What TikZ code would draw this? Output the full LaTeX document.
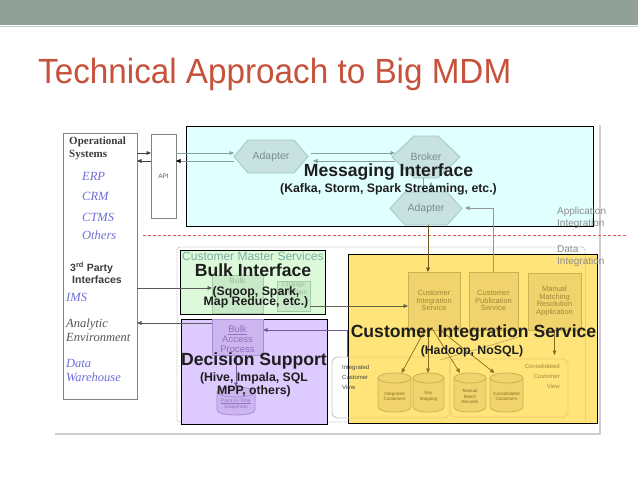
\documentclass[tikz,border=0pt]{standalone}
\usepackage{fontspec}
\setmainfont{Liberation Sans}
\newfontfamily\serfont{Liberation Serif}
\usetikzlibrary{arrows.meta}
\newcommand\myfs[2]{\fontsize{#1}{#2}\selectfont}
\definecolor{bandC}{RGB}{146,161,152}
\definecolor{bandL}{RGB}{195,204,199}
\definecolor{titleC}{RGB}{199,82,60}
\definecolor{frameC}{RGB}{205,205,205}
\definecolor{redC}{RGB}{228,90,90}
\definecolor{cmsB}{RGB}{200,200,200}
\definecolor{opsB}{RGB}{130,130,130}
\definecolor{opsT}{RGB}{60,60,60}
\definecolor{opsBlue}{RGB}{110,110,215}
\definecolor{opsGrey}{RGB}{85,85,85}
\definecolor{apiT}{RGB}{90,90,90}
\definecolor{blueF}{RGB}{224,255,255}
\definecolor{adF}{RGB}{200,226,226}
\definecolor{adB}{RGB}{165,200,200}
\definecolor{adT}{RGB}{120,142,142}
\definecolor{tealArr}{RGB}{135,160,160}
\definecolor{greenF}{RGB}{220,250,217}
\definecolor{gBox}{RGB}{200,234,200}
\definecolor{gB}{RGB}{165,205,165}
\definecolor{gT}{RGB}{150,185,150}
\definecolor{cmsT}{RGB}{125,172,162}
\definecolor{purpF}{RGB}{221,202,255}
\definecolor{pBox}{RGB}{205,182,240}
\definecolor{pB}{RGB}{170,140,215}
\definecolor{pT}{RGB}{145,112,190}
\definecolor{pArr}{RGB}{115,90,150}
\definecolor{yelF}{RGB}{255,228,122}
\definecolor{yBox}{RGB}{240,211,108}
\definecolor{yB}{RGB}{206,176,84}
\definecolor{yT}{RGB}{165,135,55}
\definecolor{yArr}{RGB}{135,110,30}
\definecolor{yLine}{RGB}{238,208,110}
\definecolor{bigC}{RGB}{30,30,30}
\definecolor{darkArr}{RGB}{90,90,90}
\definecolor{grayArr}{RGB}{150,150,150}
\definecolor{appT}{RGB}{140,140,140}
\definecolor{icvT}{RGB}{70,70,70}
\tikzset{
  bx/.style={inner sep=0pt,outer sep=0pt,anchor=north west},
  lbl/.style={inner sep=0pt,outer sep=0pt,align=center},
  bigt/.style={lbl,anchor=base,font={\bfseries\myfs{17.6}{20}},text=bigC},
  subt/.style={lbl,anchor=base,font={\bfseries\myfs{12.3}{14}},text=bigC},
  con/.style={draw=#1,line width=0.7pt,-{Triangle[length=4.5pt,width=3.8pt]}},
  hexa/.style={fill=adF,draw=adB,line width=0.9pt},
  opsbold/.style={anchor=base west,inner sep=0pt,font={\serfont\bfseries\myfs{11}{12}},text=opsT},
  opsit/.style={anchor=base west,inner sep=0pt,font={\serfont\itshape\myfs{12.5}{14}},text=#1},
  ycyl/.style={fill=yBox,draw=yB,line width=0.8pt},
  pcyl/.style={fill=pBox,draw=pB,line width=0.8pt},
}
\newcommand\dbcyl[6]{%
  \pgfmathsetmacro\myCx{(#1+#2)/2}%
  \pgfmathsetmacro\myRx{(#2-#1)/2}%
  \pgfmathsetmacro\myCy{(#3+#4)/2}%
  \pgfmathsetmacro\myTa{#3+5}%
  \pgfmathsetmacro\myTb{#4-5}%
  \pgfmathsetmacro\myTc{#4+5/3}%
  \filldraw[#6] (#1,\myTa) -- (#1,\myTb) .. controls (#1,\myTc) and (#2,\myTc) .. (#2,\myTb) -- (#2,\myTa) -- cycle;
  \filldraw[#6] (\myCx,\myTa) ellipse [x radius=\myRx, y radius=5];
  \node[inner sep=0pt,outer sep=0pt,minimum width={(#2-#1)*1pt},minimum height={(#4-#3)*1pt}] (#5) at (\myCx,\myCy) {};
}
\begin{document}
\begin{tikzpicture}[x=1pt,y=-1pt]
\useasboundingbox (0,0) rectangle (638,479);
\fill[white] (0,0) rectangle (638,479);
\fill[bandC] (0,0) rectangle (638,25);
\draw[bandL,line width=1pt] (0,26) -- (638,26);
\node[anchor=base west,inner sep=0pt,text=titleC,font=\myfs{35}{40},xscale=0.95] (title) at (38,83) {Technical Approach to Big MDM};

% row / column helpers
\coordinate (r153) at (0,153); \coordinate (r161) at (0,161);
\coordinate (r208) at (0,208); \coordinate (r288) at (0,288);
\coordinate (r306) at (0,306); \coordinate (r323) at (0,323);
\coordinate (r330) at (0,330);
\coordinate (k423) at (423,0); \coordinate (k431) at (431,0);
\coordinate (k428) at (428,0); \coordinate (k347) at (347,0);
\coordinate (k236) at (236,0);

% outer frame and separator
\draw[frameC,line width=1.8pt] (600,125) -- (600,434) -- (55,434);
\draw[redC,line width=0.6pt,dash pattern=on 3pt off 2pt] (143,235) -- (628,235);

% customer master services frame
\node[bx,draw=cmsB,line width=0.9pt,dash pattern=on 2pt off 1pt,rounded corners=3pt,minimum width=408pt,minimum height=175pt] (cms) at (177,247) {};
\node[bx,draw=cmsB,line width=0.9pt,fill=white,rounded corners=6pt,minimum width=118pt,minimum height=61pt] (icv) at (332,357) {};

% operational systems
\node[bx,draw=opsB,line width=0.8pt,minimum width=74pt,minimum height=266pt] (ops) at (63,133) {};
\node[bx,draw=opsB,line width=0.8pt,minimum width=25pt,minimum height=84pt] (api) at (151,134) {};
\node[lbl,font=\myfs{6.5}{7},text=apiT] (apit) at (163.5,176) {API};
\node[opsbold] (o1) at (69,144) {Operational};
\node[opsbold] (o2) at (69,157) {Systems};
\node[opsit=opsBlue] (o3) at (82,180.5) {ERP};
\node[opsit=opsBlue] (o4) at (82,200.5) {CRM};
\node[opsit=opsBlue] (o5) at (82,221.5) {CTMS};
\node[opsit=opsBlue] (o6) at (82,239.5) {Others};
\node[anchor=base west,inner sep=0pt,font={\bfseries\myfs{10.5}{12}},text=opsT] (o7) at (70,271) {3\textsuperscript{rd} Party};
\node[anchor=base west,inner sep=0pt,font={\bfseries\myfs{10.5}{12}},text=opsT] (o8) at (72,283) {Interfaces};
\node[opsit=opsBlue] (o9) at (66,301.5) {IMS};
\node[opsit=opsGrey] (o10) at (66,327.5) {Analytic};
\node[opsit=opsGrey] (o11) at (66,341.5) {Environment};
\node[opsit=opsBlue] (o12) at (66,367.5) {Data};
\node[opsit=opsBlue] (o13) at (66,381.5) {Warehouse};

% ---------- messaging interface ----------
\node[bx,draw=black,fill=blueF,line width=0.8pt,minimum width=407pt,minimum height=100pt] (blue) at (186,126) {};
\node[lbl,minimum width=74pt,minimum height=33pt] (ad1) at (271,156.5) {};
\draw[hexa] (ad1.west) -- ([xshift=14pt]ad1.north west) -- ([xshift=-14pt]ad1.north east) -- (ad1.east) -- ([xshift=-14pt]ad1.south east) -- ([xshift=14pt]ad1.south west) -- cycle;
\node[lbl,font=\myfs{10.5}{12},text=adT] (ad1t) at (ad1) {Adapter};
\node[lbl,minimum width=68pt,minimum height=42pt] (br) at (426,157) {};
\draw[hexa] (br.west) -- ([xshift=22pt]br.north west) -- ([xshift=-22pt]br.north east) -- (br.east) -- ([xshift=-22pt]br.south east) -- ([xshift=22pt]br.south west) -- cycle;
\node[lbl,font=\myfs{10.5}{12},text=adT] (brt) at (426,157) {Broker};
\node[lbl,minimum width=72pt,minimum height=33pt] (ad2) at (426,208.5) {};
\draw[hexa] (ad2.west) -- ([xshift=15pt]ad2.north west) -- ([xshift=-15pt]ad2.north east) -- (ad2.east) -- ([xshift=-15pt]ad2.south east) -- ([xshift=15pt]ad2.south west) -- cycle;
\node[lbl,font=\myfs{10.5}{12},text=adT] (ad2t) at (ad2) {Adapter};

% ---------- bulk interface ----------
\node[bx,draw=black,fill=greenF,line width=0.8pt,minimum width=145pt,minimum height=64pt] (green) at (180,250) {};
\node[bx,draw=gB,fill=gBox,line width=0.8pt,minimum width=51pt,minimum height=38pt] (bulk) at (212,275) {};
\node[lbl,font=\myfs{8}{9},text=gT] (bulkt) at (237.5,281) {Bulk};
\node[bx,draw=gB,fill=gBox,line width=0.8pt,minimum width=33pt,minimum height=30pt] (chg) at (277,281) {};
\node[lbl,font=\myfs{6.5}{8.5},text=gT] (chgt) at (293.5,288) {Change\\Detection};
\node[anchor=west,inner sep=0pt,font=\myfs{12}{13},text=cmsT] (cmst) at (182,256) {Customer Master Services};

% ---------- decision support ----------
\node[bx,draw=black,fill=purpF,line width=0.8pt,minimum width=146pt,minimum height=105pt] (purp) at (181,319) {};
\node[bx,draw=pB,fill=pBox,line width=0.8pt,minimum width=51pt,minimum height=36pt] (bap) at (212,319) {};
\node[lbl,font=\myfs{9.5}{10},text=pT] (bapt) at (237.5,339.5) {\underline{Bulk}\\Access\\Process};
\dbcyl{217}{255}{387}{415}{pit}{pcyl}
\node[lbl,font=\myfs{5}{6.5},text=pT] (pitt) at ([yshift=-3pt]pit) {\underline{Point-in-Time}\\Snapshots};

% ---------- customer integration service ----------
\node[bx,draw=black,fill=yelF,line width=0.8pt,minimum width=249pt,minimum height=169pt] (yel) at (348,254) {};
\draw[yLine,line width=1pt] (585,255) -- (585,422);
\begin{scope}
\clip (yel.north west) rectangle (yel.south east);
\draw[yLine,line width=0.9pt,rounded corners=6pt] (icv.north west) rectangle (icv.south east);
\end{scope}
\node[bx,draw=yLine,line width=0.9pt,rounded corners=6pt,minimum width=118pt,minimum height=58pt] (ccv) at (450,359) {};
\node[bx,draw=yB,fill=yBox,line width=0.8pt,minimum width=52pt,minimum height=58pt] (cis) at (408,272) {};
\node[bx,draw=yB,fill=yBox,line width=0.8pt,minimum width=49pt,minimum height=58pt] (cps) at (469,272) {};
\node[bx,draw=yB,fill=yBox,line width=0.8pt,minimum width=53pt,minimum height=57pt] (mmra) at (528,273) {};
\node[lbl,font=\myfs{7.5}{7.8},text=yT] (cist) at (434,300.5) {Customer\\Integration\\Service};
\node[lbl,font=\myfs{7.5}{7.8},text=yT] (cpst) at (493.5,300.5) {Customer\\Publication\\Service};
\node[lbl,font=\myfs{7.5}{7.5},text=yT] (mmrat) at (554.5,301) {Manual\\Matching\\Resolution\\Application};
\dbcyl{378}{411}{373}{412}{cy1}{ycyl}
\dbcyl{413}{444}{373}{412}{cy2}{ycyl}
\dbcyl{454}{486}{373}{412}{cy3}{ycyl}
\dbcyl{490}{523}{373}{412}{cy4}{ycyl}
\node[lbl,font=\myfs{4.5}{5.5},text=yArr] (cy1t) at ([yshift=-4pt]cy1) {Integrated\\Customers};
\node[lbl,font=\myfs{4.5}{5.5},text=yArr] (cy2t) at ([yshift=-4pt]cy2) {Key\\Mapping};
\node[lbl,font=\myfs{4.5}{5.5},text=yArr] (cy3t) at ([yshift=-4pt]cy3) {Manual\\Match\\Records};
\node[lbl,font=\myfs{4.5}{5.5},text=yArr] (cy4t) at ([yshift=-4pt]cy4) {Consolidated\\Customers};
\node[anchor=west,inner sep=0pt,font=\myfs{6}{10},text=icvT,align=left] (icvt) at (342,377) {Integrated\\Customer\\View};
\node[anchor=east,inner sep=0pt,font=\myfs{6}{10},text=yT,align=right] (ccvt) at (560,376) {Consolidated\\Customer\\View};

% ---------- connectors ----------
\draw[con=black!75] (ops.east |- r153) -- (api.west |- r153);
\draw[con=black!75] (api.west |- r161) -- (ops.east |- r161);
\draw[con=tealArr] (api.east |- r153) -- (ad1.west |- r153);
\draw[draw=tealArr,line width=0.7pt,-{Triangle[length=4.5pt,width=3.8pt,color=black]}] (ad1.west |- r161) -- (api.east |- r161);
\draw[con=tealArr] ([xshift=3pt]ad1.east |- r153) -- ([xshift=3pt]br.west |- r153);
\draw[con=tealArr] ([xshift=3pt]br.west |- r161) -- ([xshift=5pt]ad1.east |- r161);
\draw[con=tealArr] (br.south -| k423) -- (ad2.north -| k423);
\draw[con=tealArr] (ad2.north -| k431) -- ([yshift=-4pt]br.south -| k431);
\draw[con=yArr!80!black] (ad2.south -| k428) -- (cis.north -| k428);
\draw[con=grayArr] (cps.north) -- (cps.north |- r208) -- ([xshift=3pt]ad2.east |- r208);
\draw[con=darkArr] (ops.east |- r288) -- (bulk.west |- r288);
\draw[con=darkArr!70!yArr] (chg.east |- r306) -- (cis.west |- r306);
\draw[con=darkArr] (bap.west |- r323) -- (ops.east |- r323);
\draw[con=pArr] (icv.north -| k347) -- (k347 |- r330) -- (bap.east |- r330);
\draw[con=pArr] (bap.south -| k236) -- (pit.north -| k236);
\draw[con=yArr] ([xshift=-9pt]cis.south) -- ([xshift=7pt]cy1.north);
\draw[con=yArr] ([xshift=-6pt]cis.south) -- (cy2.north -| k428);
\draw[con=yArr] ([xshift=-1pt]cis.south) -- ([xshift=-10pt]cy3.north);
\draw[con=yArr] ([xshift=6pt]cis.south) -- ([xshift=-12pt]cy4.north);
\draw[con=yArr] (mmra.south) -- ([yshift=4pt]mmra.south |- ccv.north);
\draw[yArr!70,line width=0.5pt] (522,336) -- (440,360);

% ---------- big labels ----------
\node[bigt] (msgT) at (388.5,176) {Messaging Interface};
\node[subt] (msgS) at (388.5,192) {(Kafka, Storm, Spark Streaming, etc.)};
\node[bigt] (bulkT) at (253,276) {Bulk Interface};
\node[subt] (bulkS1) at (256,295) {(Sqoop, Spark,};
\node[subt] (bulkS2) at (256,305) {Map Reduce, etc.)};
\node[bigt] (decT) at (254,365) {Decision Support};
\node[subt] (decS1) at (254,381) {(Hive, Impala, SQL};
\node[subt] (decS2) at (254,394) {MPP, others)};
\node[bigt] (cisT) at (473.5,337.5) {Customer Integration Service};
\node[subt] (cisS) at (472,354) {(Hadoop, NoSQL)};

\node[anchor=west,inner sep=0pt,font=\myfs{10}{12},text=appT,align=left] (appI) at (557,218) {Application\\Integration};
\node[anchor=west,inner sep=0pt,font=\myfs{10}{12},text=appT,align=left] (datI) at (557,256.5) {Data\\Integration};
\end{tikzpicture}
\end{document}
